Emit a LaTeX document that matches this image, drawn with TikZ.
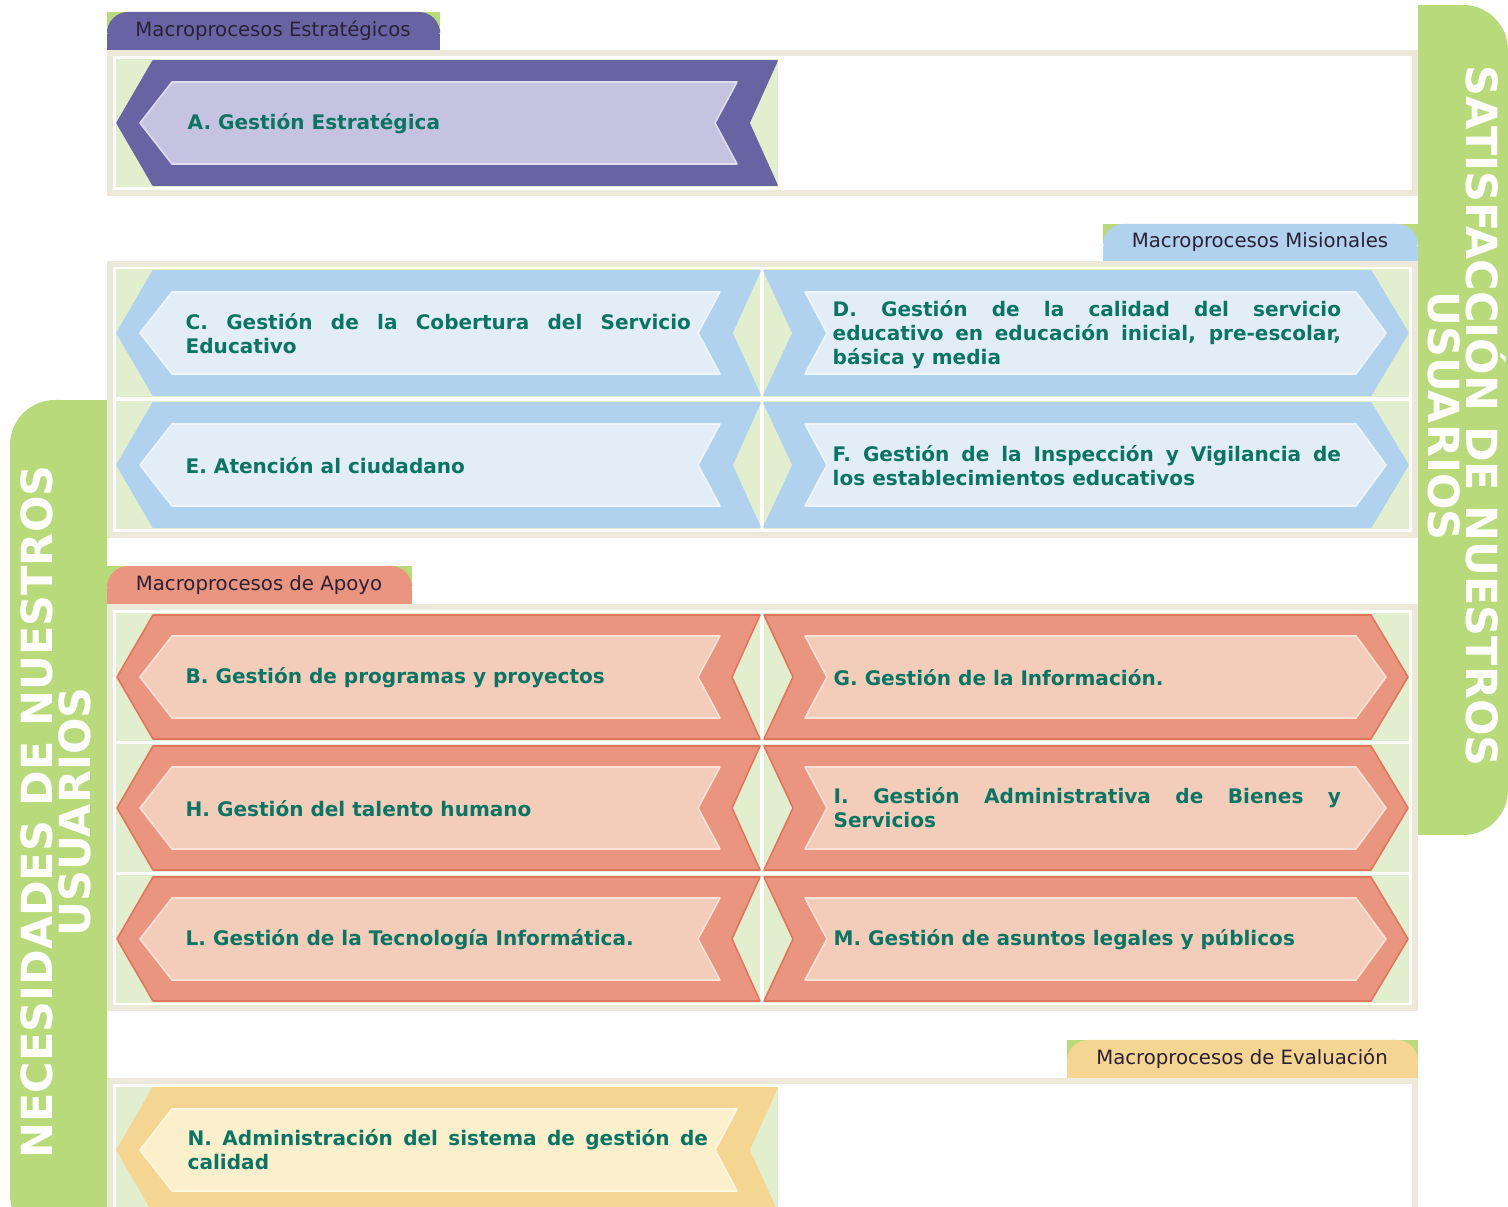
\documentclass[tikz,border=0pt]{standalone}
\usepackage{fontspec}
\setmainfont{DejaVu Sans}

\definecolor{bandgreen}{HTML}{B9DA7B}
\definecolor{cellgreen}{HTML}{E2EFCE}
\definecolor{framebeige}{HTML}{ECE9DA}
\definecolor{purpleout}{HTML}{6864A4}
\definecolor{purplein}{HTML}{C6C3E0}
\definecolor{blueout}{HTML}{B1D2EE}
\definecolor{bluein}{HTML}{E2EDF8}
\definecolor{salmonout}{HTML}{E99580}
\definecolor{salmonin}{HTML}{F3CCBA}
\definecolor{salmonedge}{HTML}{E2735D}
\definecolor{yellowout}{HTML}{F5D592}
\definecolor{yellowin}{HTML}{FCEFCC}
\definecolor{labelteal}{HTML}{0A7564}
\definecolor{tabtext}{HTML}{2B2035}

% chevron pointing left: xl, xr, yc, outer, inner, edge
\newcommand{\chevleft}[6]{%
  \filldraw[fill=#4, draw=#6, line width=0.45pt, line join=round]
    (#1,#3) -- ({#1+36},{#3-62}) -- (#2,{#3-62}) -- ({#2-28},#3)
    -- (#2,{#3+62}) -- ({#1+36},{#3+62}) -- cycle;
  \filldraw[fill=#5, draw=white!45!#5, line width=0.45pt, line join=round]
    ({#1+23},#3) -- ({#1+55},{#3-41}) -- ({#2-40},{#3-41}) -- ({#2-62},#3)
    -- ({#2-40},{#3+41}) -- ({#1+55},{#3+41}) -- cycle;}
% chevron pointing right: xl, xr, yc, outer, inner, edge
\newcommand{\chevright}[6]{%
  \filldraw[fill=#4, draw=#6, line width=0.45pt, line join=round]
    (#1,{#3-62}) -- ({#2-38},{#3-62}) -- ({#2-1},#3) -- ({#2-38},{#3+62})
    -- (#1,{#3+62}) -- ({#1+29},#3) -- cycle;
  \filldraw[fill=#5, draw=white!45!#5, line width=0.45pt, line join=round]
    ({#1+41},{#3-41}) -- ({#2-53},{#3-41}) -- ({#2-23},#3) -- ({#2-53},{#3+41})
    -- ({#1+41},{#3+41}) -- ({#1+63},#3) -- cycle;}

\begin{document}
\begin{tikzpicture}[x=0.01cm, y=-0.01cm,
    proclabel/.style={anchor=west, inner sep=0pt, text=labelteal, align=left,
      font=\fontsize{5.7}{6.8}\selectfont\bfseries},
    tabtitle/.style={inner sep=0pt, text=tabtext, font=\fontsize{5.6}{6.5}\selectfont},
    bandtext/.style={inner sep=0pt, text=white, align=center,
      font=\fontsize{12.2}{10.8}\selectfont\bfseries},
    tabshape/.style={rounded corners=6pt}]
  \useasboundingbox (0,0) rectangle (1508,1207);

  % green side bands
  \fill[bandgreen, rounded corners=12.8pt] (1418,5) rectangle (1508,835);
  \fill[bandgreen] (1418,5) rectangle (1460,835);
  \fill[bandgreen, rounded corners=12.8pt] (10,400) rectangle (107,1240);
  \fill[bandgreen] (60,400) rectangle (107,1240);

  % tabs
  \fill[bandgreen] (107,12) rectangle (440,32);
  \fill[purpleout, tabshape] (107,12) rectangle (440,50);
  \fill[purpleout] (107,34) rectangle (440,50);
  \fill[bandgreen] (1103,224) rectangle (1418,244);
  \fill[blueout, tabshape] (1103,224) rectangle (1418,261);
  \fill[blueout] (1103,246) rectangle (1418,261);
  \fill[bandgreen] (107,566) rectangle (412,586);
  \fill[salmonout, tabshape] (107,566) rectangle (412,604);
  \fill[salmonout] (107,588) rectangle (412,604);
  \fill[bandgreen] (1067,1040) rectangle (1418,1060);
  \fill[yellowout, tabshape] (1067,1040) rectangle (1418,1078);
  \fill[yellowout] (1067,1062) rectangle (1418,1078);

  % frames
  \fill[framebeige] (107,50) rectangle (1418,196);
  \fill[white] (113,56) rectangle (1412,190);
  \fill[framebeige] (107,261) rectangle (1418,538);
  \fill[white] (113,267) rectangle (1412,532);
  \fill[framebeige] (107,604) rectangle (1418,1011);
  \fill[white] (113,610) rectangle (1412,1005);
  \fill[framebeige] (107,1078) rectangle (1418,1240);
  \fill[white] (113,1084) rectangle (1412,1240);

  % estrategicos
  \fill[cellgreen] (116,59) rectangle (778,187);
  \chevleft{117}{777}{123}{purpleout}{purplein}{purpleout}

  % misionales
  \foreach \yc in {333,465}{
    \fill[cellgreen] (116,{\yc-64}) rectangle (760,{\yc+64});
    \fill[cellgreen] (764,{\yc-64}) rectangle (1409,{\yc+64});
    \chevleft{117}{760}{\yc}{blueout}{bluein}{blueout}
    \chevright{764}{1409}{\yc}{blueout}{bluein}{blueout}
  }

  % apoyo
  \foreach \yc in {677,808,939}{
    \fill[cellgreen] (116,{\yc-64}) rectangle (760,{\yc+64});
    \fill[cellgreen] (764,{\yc-64}) rectangle (1409,{\yc+64});
    \chevleft{117}{760}{\yc}{salmonout}{salmonin}{salmonedge}
    \chevright{764}{1409}{\yc}{salmonout}{salmonin}{salmonedge}
  }

  % evaluacion
  \fill[cellgreen] (116,1087) rectangle (778,1240);
  \chevleft{117}{777}{1150}{yellowout}{yellowin}{yellowout}

  % tab titles
  \node[tabtitle] (tabestr) at (273,31) {Macroprocesos Estratégicos};
  \node[tabtitle] (tabmis) at (1260,242) {Macroprocesos Misionales};
  \node[tabtitle] (tabapo) at (259,585) {Macroprocesos de Apoyo};
  \node[tabtitle] (tabeval) at (1242,1059) {Macroprocesos de Evaluación};

  % process labels
  \node[proclabel] (procA) at (187,124) {A. Gestión Estratégica};
  \node[proclabel] (procC) at (185,334)
    {\makebox[5.05cm][s]{C. Gestión de la Cobertura del Servicio}\\Educativo};
  \node[proclabel] (procD) at (832,335)
    {\makebox[5.08cm][s]{D. Gestión de la calidad del servicio}\\
     \makebox[5.08cm][s]{educativo en educación inicial, pre-escolar,}\\básica y media};
  \node[proclabel] (procE) at (185,466) {E. Atención al ciudadano};
  \node[proclabel] (procF) at (832,466)
    {\makebox[5.08cm][s]{F. Gestión de la Inspección y Vigilancia de}\\los establecimientos educativos};
  \node[proclabel] (procB) at (185,678) {B. Gestión de programas y proyectos};
  \node[proclabel] (procG) at (833,678) {G. Gestión de la Información.};
  \node[proclabel] (procH) at (185,809) {H. Gestión del talento humano};
  \node[proclabel] (procI) at (833,808)
    {\makebox[5.07cm][s]{I. Gestión Administrativa de Bienes y}\\Servicios};
  \node[proclabel] (procL) at (185,940) {L. Gestión de la Tecnología Informática.};
  \node[proclabel] (procM) at (833,940) {M. Gestión de asuntos legales y públicos};
  \node[proclabel] (procN) at (187,1150)
    {\makebox[5.2cm][s]{N. Administración del sistema de gestión de}\\calidad};

  % band titles
  \node[bandtext, rotate=-90] (satisf) at (1467,416) {SATISFACCIÓN DE NUESTROS\\USUARIOS};
  \node[bandtext, rotate=90] (necesid) at (56,812) {NECESIDADES DE NUESTROS\\USUARIOS};
\end{tikzpicture}
\end{document}
